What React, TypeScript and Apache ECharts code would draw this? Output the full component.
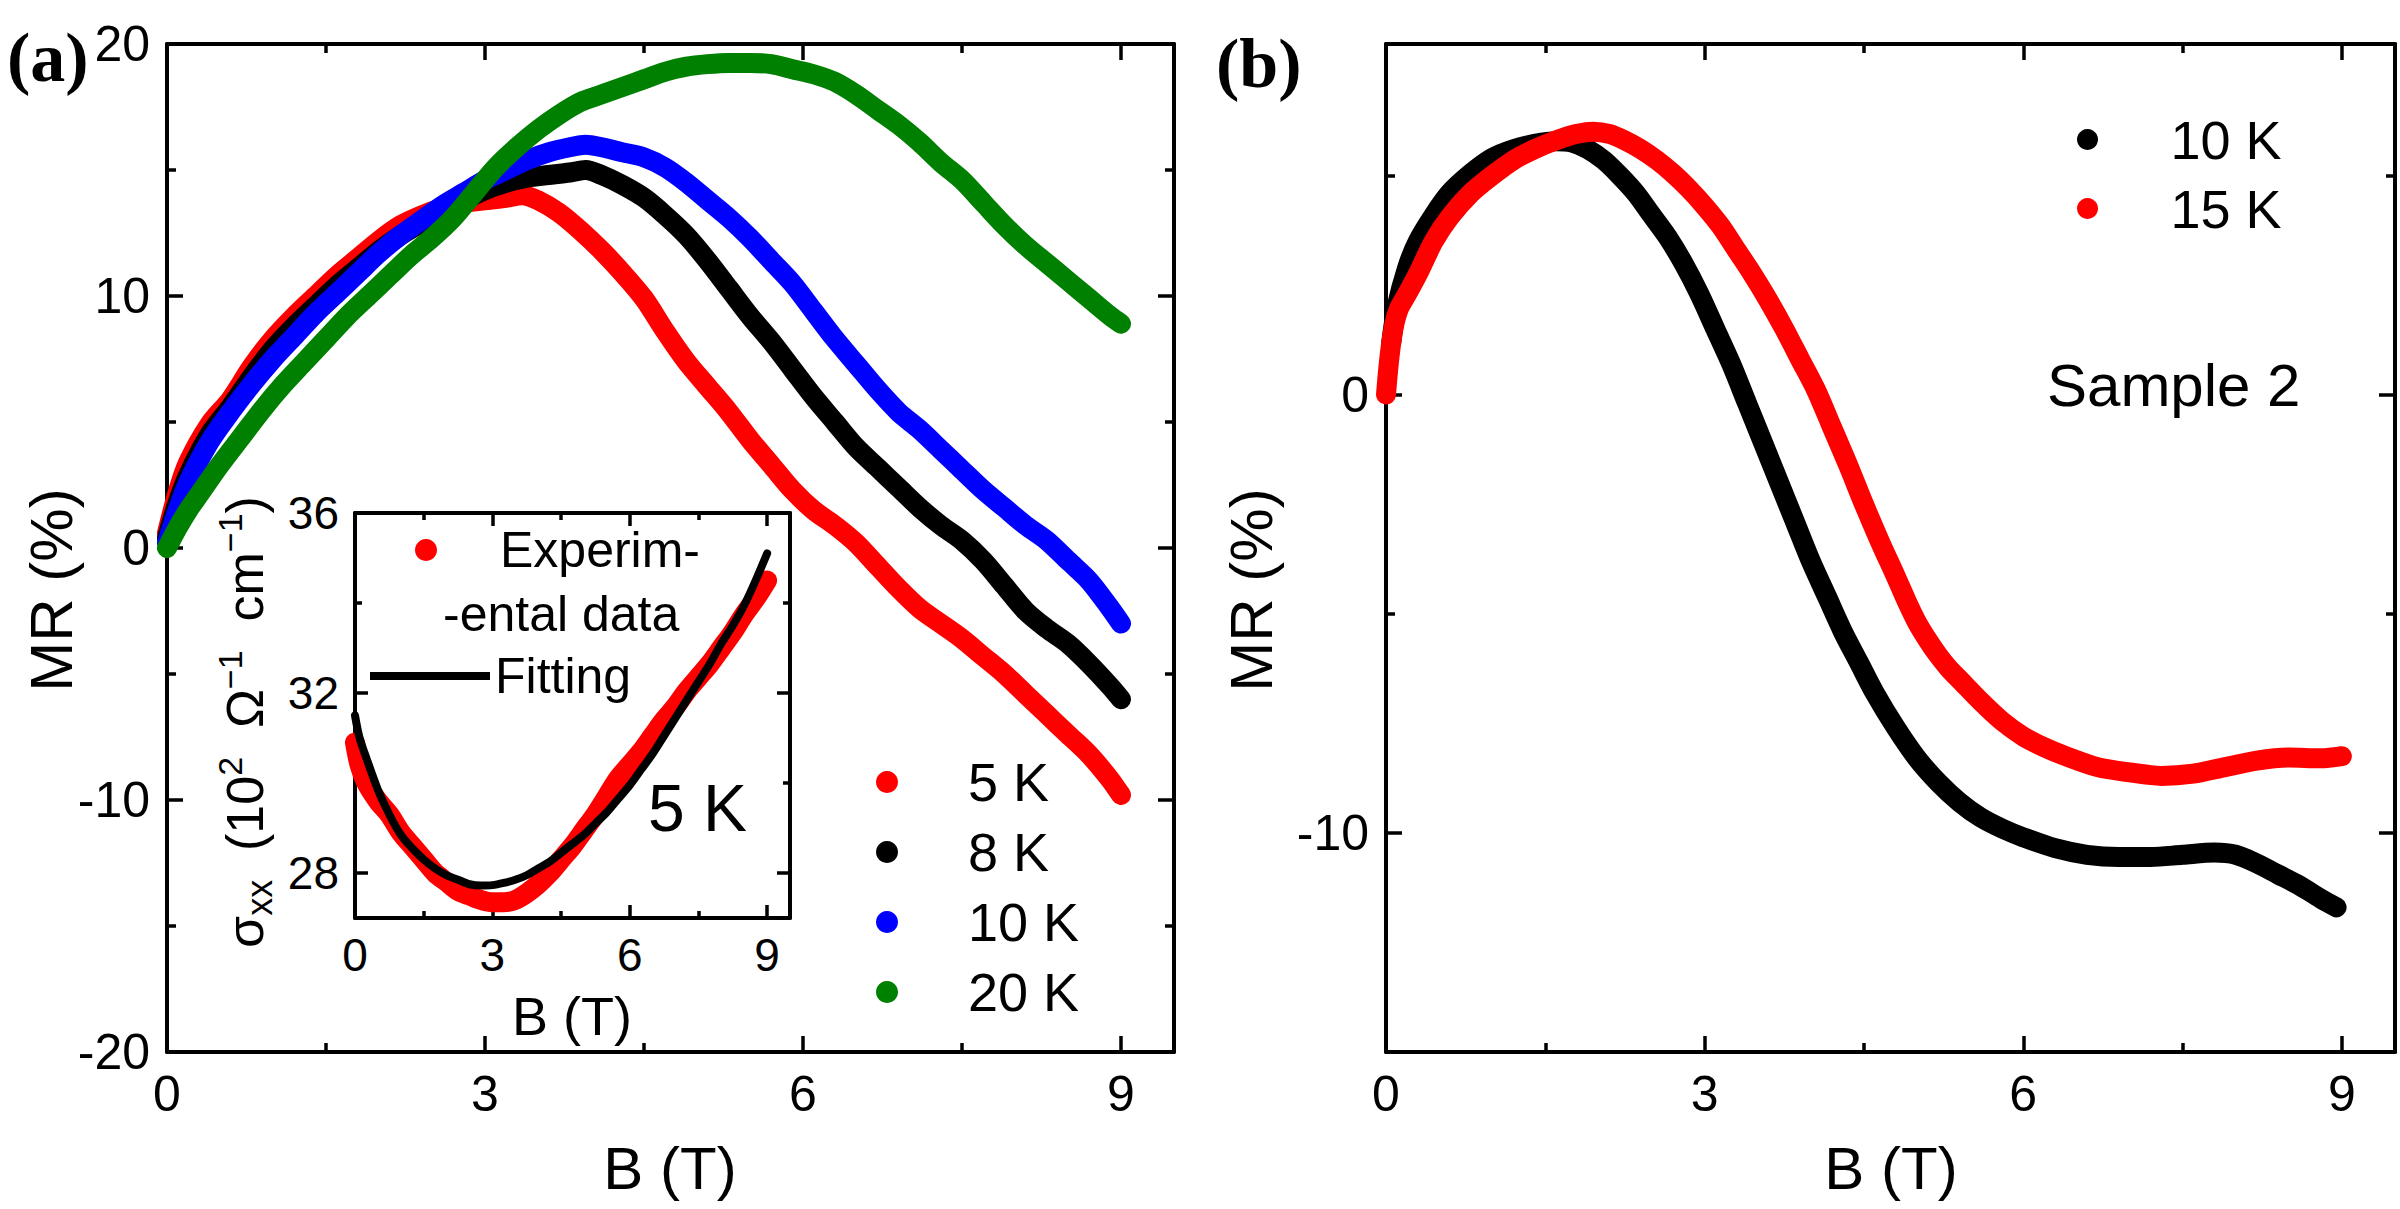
import React, { useEffect, useRef } from 'react';
import * as echarts from 'echarts';

const FONT = "'Liberation Sans', Arial, Helvetica, sans-serif";
const SERIF = "'Liberation Serif', 'Times New Roman', serif";

// Panel (a): magnetoresistance of sample 1, [B (T), MR (%)]
const mr5K: [number, number][] = [
  [0, 0.6], [0.1, 2.2], [0.2, 3.4], [0.4, 4.9], [0.6, 5.9], [0.8, 7.2], [1.0, 8.3], [1.2, 9.2],
  [1.4, 10.0], [1.6, 10.8], [1.8, 11.5], [2.0, 12.2], [2.2, 12.8], [2.4, 13.2], [2.6, 13.5],
  [2.8, 13.7], [3.0, 13.8], [3.2, 13.9], [3.35, 14.0], [3.5, 13.8], [3.7, 13.3], [3.9, 12.6],
  [4.1, 11.8], [4.3, 10.9], [4.5, 9.9], [4.7, 8.6], [4.9, 7.4], [5.1, 6.4], [5.3, 5.4],
  [5.5, 4.3], [5.7, 3.3], [5.9, 2.3], [6.1, 1.5], [6.3, 0.9], [6.5, 0.2], [6.7, -0.7],
  [6.9, -1.6], [7.1, -2.4], [7.3, -3.0], [7.5, -3.6], [7.7, -4.3], [7.9, -5.0], [8.1, -5.8],
  [8.3, -6.6], [8.5, -7.4], [8.7, -8.2], [8.9, -9.2], [9.0, -9.8],
];
const mr8K: [number, number][] = [
  [0, 0.4], [0.1, 1.8], [0.2, 2.9], [0.4, 4.5], [0.6, 5.6], [0.8, 6.8], [1.0, 7.9], [1.2, 8.8],
  [1.4, 9.6], [1.6, 10.4], [1.8, 11.1], [2.0, 11.8], [2.2, 12.4], [2.4, 12.9], [2.6, 13.4],
  [2.8, 13.8], [3.0, 14.2], [3.2, 14.5], [3.4, 14.7], [3.6, 14.8], [3.8, 14.9], [3.95, 15.0],
  [4.1, 14.8], [4.3, 14.4], [4.5, 13.9], [4.7, 13.2], [4.9, 12.4], [5.1, 11.4], [5.3, 10.3],
  [5.5, 9.2], [5.7, 8.2], [5.9, 7.1], [6.1, 6.0], [6.3, 5.0], [6.5, 4.0], [6.7, 3.2],
  [6.9, 2.4], [7.1, 1.6], [7.3, 0.9], [7.5, 0.3], [7.7, -0.5], [7.9, -1.5], [8.1, -2.5],
  [8.3, -3.2], [8.5, -3.8], [8.7, -4.6], [8.9, -5.5], [9.0, -6.0],
];
const mr10K: [number, number][] = [
  [0, 0.2], [0.1, 1.5], [0.2, 2.6], [0.4, 4.2], [0.6, 5.4], [0.8, 6.5], [1.0, 7.5], [1.2, 8.4],
  [1.4, 9.3], [1.6, 10.1], [1.8, 10.9], [2.0, 11.7], [2.2, 12.4], [2.4, 13.0], [2.6, 13.6],
  [2.8, 14.1], [3.0, 14.6], [3.2, 15.0], [3.4, 15.4], [3.6, 15.7], [3.8, 15.9], [3.95, 16.0],
  [4.1, 15.9], [4.3, 15.7], [4.5, 15.5], [4.7, 15.1], [4.9, 14.5], [5.1, 13.8], [5.3, 13.1],
  [5.5, 12.3], [5.7, 11.4], [5.9, 10.5], [6.1, 9.4], [6.3, 8.3], [6.5, 7.3], [6.7, 6.3],
  [6.9, 5.4], [7.1, 4.7], [7.3, 3.9], [7.5, 3.1], [7.7, 2.3], [7.9, 1.6], [8.1, 0.9],
  [8.3, 0.3], [8.5, -0.5], [8.7, -1.3], [8.9, -2.4], [9.0, -3.0],
];
const mr20K: [number, number][] = [
  [0, 0], [0.1, 0.8], [0.2, 1.5], [0.3, 2.1], [0.5, 3.3], [0.7, 4.4], [0.9, 5.5], [1.1, 6.5],
  [1.3, 7.4], [1.5, 8.3], [1.7, 9.2], [1.9, 10.0], [2.1, 10.8], [2.3, 11.6], [2.5, 12.3],
  [2.7, 13.1], [2.9, 14.1], [3.1, 15.1], [3.3, 15.9], [3.5, 16.6], [3.7, 17.2], [3.9, 17.7],
  [4.1, 18.0], [4.3, 18.3], [4.5, 18.6], [4.7, 18.9], [4.9, 19.1], [5.1, 19.2], [5.3, 19.25],
  [5.5, 19.25], [5.7, 19.2], [5.9, 19.0], [6.1, 18.8], [6.3, 18.5], [6.5, 18.0], [6.7, 17.4],
  [6.9, 16.8], [7.1, 16.1], [7.3, 15.3], [7.5, 14.6], [7.7, 13.7], [7.9, 12.8], [8.1, 12.0],
  [8.3, 11.3], [8.5, 10.6], [8.7, 9.9], [8.9, 9.2], [9.0, 8.9],
];

// Inset: conductivity at 5 K, [B (T), sigma_xx (10^2 Ohm^-1 cm^-1)]
const sigma5K: [number, number][] = [
  [0, 30.9], [0.1, 30.4], [0.25, 30.0], [0.5, 29.6], [0.75, 29.3], [1.0, 28.9], [1.25, 28.6],
  [1.5, 28.3], [1.75, 28.0], [2.0, 27.8], [2.25, 27.6], [2.5, 27.5], [2.75, 27.4], [3.0, 27.35],
  [3.25, 27.35], [3.5, 27.4], [3.75, 27.55], [4.0, 27.75], [4.25, 28.0], [4.5, 28.3],
  [4.75, 28.6], [5.0, 28.95], [5.25, 29.3], [5.5, 29.7], [5.75, 30.1], [6.0, 30.4],
  [6.25, 30.7], [6.5, 31.05], [6.75, 31.4], [7.0, 31.7], [7.25, 32.05], [7.5, 32.35],
  [7.75, 32.65], [8.0, 33.0], [8.25, 33.35], [8.5, 33.75], [8.75, 34.1], [9.0, 34.5],
];
const sigmaFit5K: [number, number][] = [
  [0, 31.5], [0.1, 31.0], [0.25, 30.55], [0.5, 29.85], [0.75, 29.3], [1.0, 28.85], [1.25, 28.55],
  [1.5, 28.3], [1.75, 28.1], [2.0, 27.95], [2.25, 27.85], [2.5, 27.75], [2.75, 27.72],
  [3.0, 27.73], [3.25, 27.78], [3.5, 27.85], [3.75, 27.95], [4.0, 28.1], [4.25, 28.25],
  [4.5, 28.45], [4.75, 28.65], [5.0, 28.85], [5.25, 29.1], [5.5, 29.35], [5.75, 29.65],
  [6.0, 29.95], [6.25, 30.3], [6.5, 30.65], [6.75, 31.05], [7.0, 31.45], [7.25, 31.85],
  [7.5, 32.25], [7.75, 32.65], [8.0, 33.1], [8.25, 33.5], [8.5, 33.95], [8.75, 34.5], [9.0, 35.1],
];

// Panel (b): magnetoresistance of sample 2, [B (T), MR (%)]
const mrS2_10K: [number, number][] = [
  [0.05, 1.2], [0.1, 2.0], [0.2, 2.9], [0.3, 3.5], [0.45, 4.1], [0.6, 4.6], [0.8, 5.05],
  [1.0, 5.4], [1.2, 5.6], [1.4, 5.72], [1.6, 5.78], [1.75, 5.75], [1.9, 5.6], [2.05, 5.35],
  [2.2, 5.0], [2.35, 4.6], [2.5, 4.1], [2.65, 3.6], [2.8, 3.0], [2.95, 2.3], [3.1, 1.5],
  [3.25, 0.7], [3.4, -0.2], [3.55, -1.1], [3.7, -2.0], [3.85, -2.9], [4.0, -3.8], [4.15, -4.6],
  [4.3, -5.4], [4.45, -6.1], [4.6, -6.8], [4.8, -7.6], [5.0, -8.3], [5.2, -8.85], [5.4, -9.3],
  [5.6, -9.65], [5.8, -9.9], [6.0, -10.1], [6.3, -10.35], [6.6, -10.5], [6.9, -10.55],
  [7.2, -10.55], [7.5, -10.5], [7.8, -10.45], [8.0, -10.5], [8.2, -10.7], [8.4, -10.95],
  [8.6, -11.2], [8.8, -11.5], [8.95, -11.7],
];
const mrS2_15K: [number, number][] = [
  [0, 0], [0.03, 0.8], [0.07, 1.5], [0.12, 1.95], [0.2, 2.3], [0.3, 2.75], [0.45, 3.5],
  [0.6, 4.05], [0.8, 4.6], [1.0, 5.0], [1.2, 5.35], [1.4, 5.6], [1.6, 5.8], [1.8, 5.95],
  [1.95, 6.0], [2.1, 5.95], [2.25, 5.8], [2.4, 5.6], [2.55, 5.35], [2.7, 5.05], [2.85, 4.7],
  [3.0, 4.3], [3.15, 3.85], [3.3, 3.3], [3.45, 2.75], [3.6, 2.15], [3.75, 1.5], [3.9, 0.8],
  [4.05, 0.1], [4.2, -0.75], [4.35, -1.6], [4.5, -2.5], [4.65, -3.35], [4.8, -4.15],
  [4.9, -4.7], [5.0, -5.2], [5.1, -5.6], [5.2, -5.95], [5.3, -6.25], [5.4, -6.5], [5.6, -7.0],
  [5.8, -7.45], [6.0, -7.8], [6.2, -8.05], [6.4, -8.25], [6.7, -8.5], [7.0, -8.62],
  [7.3, -8.7], [7.6, -8.65], [7.9, -8.5], [8.2, -8.35], [8.5, -8.28], [8.8, -8.3], [9.0, -8.25],
];

// Tick positions
const bMajor = [0, 3, 6, 9];
const bMinor = [1.5, 4.5, 7.5];
const mrAMajor = [-20, -10, 0, 10, 20];
const mrAMinor = [-15, -5, 5, 15];
const mrBMajor = [-10, 0];
const mrBMinor = [-5, 5];
const sigmaMajor = [28, 32, 36];
const sigmaMinor = [30, 34];

type AxisSpec = {
  dim: 'x' | 'y';
  grid: number;
  min: number;
  max: number;
  majors: number[];
  minors: number[];
  tickLen: [number, number];
  fontSize: number;
  margin: number;
};

// Four overlapping axes per dimension: labelled major + minor on the primary side,
// unlabelled major + minor on the mirrored side, all with inward ticks.
function frameAxes(s: AxisSpec) {
  const sides = s.dim === 'x' ? ['bottom', 'top'] : ['left', 'right'];
  const out: any[] = [];
  sides.forEach((position, si) => {
    [true, false].forEach((isMajor) => {
      out.push({
        type: 'value',
        gridIndex: s.grid,
        position,
        min: s.min,
        max: s.max,
        splitLine: { show: false },
        axisPointer: { show: false },
        axisLine: { show: isMajor, onZero: false, lineStyle: { color: '#000', width: 4 } },
        axisTick: {
          show: true,
          inside: true,
          customValues: isMajor ? s.majors : s.minors,
          length: isMajor ? s.tickLen[0] : s.tickLen[1],
          lineStyle: { color: '#000', width: 3.5 },
        },
        axisLabel:
          si === 0 && isMajor
            ? {
                show: true,
                customValues: s.majors,
                fontSize: s.fontSize,
                fontFamily: FONT,
                color: '#000',
                margin: s.margin,
                showMinLabel: true,
                showMaxLabel: true,
              }
            : { show: false },
      });
    });
  });
  return out;
}

function curve(name: string, data: [number, number][], color: string, width: number, grid: number) {
  return {
    type: 'line',
    name,
    data,
    xAxisIndex: grid * 4,
    yAxisIndex: grid * 4,
    color,
    symbol: 'none',
    showSymbol: false,
    smooth: 0.3,
    silent: true,
    lineStyle: { color, width, cap: 'round', join: 'round' },
    itemStyle: { color },
  };
}

function buildOption() {
  const xAxes = [
    ...frameAxes({ dim: 'x', grid: 0, min: 0, max: 9.5, majors: bMajor, minors: bMinor, tickLen: [16, 9], fontSize: 50, margin: 17 }),
    ...frameAxes({ dim: 'x', grid: 1, min: 0, max: 9.5, majors: bMajor, minors: bMinor, tickLen: [16, 9], fontSize: 50, margin: 17 }),
    ...frameAxes({ dim: 'x', grid: 2, min: 0, max: 9.5, majors: bMajor, minors: bMinor, tickLen: [13, 7], fontSize: 46, margin: 14 }),
  ];
  const yAxes = [
    ...frameAxes({ dim: 'y', grid: 0, min: -20, max: 20, majors: mrAMajor, minors: mrAMinor, tickLen: [16, 9], fontSize: 50, margin: 17 }),
    ...frameAxes({ dim: 'y', grid: 1, min: -15, max: 8, majors: mrBMajor, minors: mrBMinor, tickLen: [16, 9], fontSize: 50, margin: 17 }),
    ...frameAxes({ dim: 'y', grid: 2, min: 27, max: 36, majors: sigmaMajor, minors: sigmaMinor, tickLen: [13, 7], fontSize: 46, margin: 16 }),
  ];

  const legendText = { fontFamily: FONT, color: '#000' };

  return {
    animation: false,
    backgroundColor: '#fff',
    grid: [
      { left: 167, top: 44, width: 1007, height: 1008 },
      { left: 1386, top: 44, width: 1009, height: 1008 },
      { left: 355, top: 513, width: 435, height: 405 },
    ],
    xAxis: xAxes,
    yAxis: yAxes,
    legend: [
      {
        orient: 'vertical',
        left: 876,
        top: 747,
        padding: 0,
        itemGap: 0,
        itemWidth: 152,
        itemHeight: 22,
        icon: 'circle',
        selectedMode: false,
        data: ['5 K', '8 K', '10 K', '20 K'],
        textStyle: { ...legendText, fontSize: 54, lineHeight: 70 },
      },
      {
        orient: 'vertical',
        left: 2077,
        top: 105,
        padding: 0,
        itemGap: 0,
        itemWidth: 156,
        itemHeight: 21,
        icon: 'circle',
        selectedMode: false,
        data: ['Sample 2, 10 K', 'Sample 2, 15 K'],
        formatter: (n: string) => n.replace('Sample 2, ', ''),
        textStyle: { ...legendText, fontSize: 54, lineHeight: 69 },
      },
      {
        left: 415,
        top: 520,
        padding: 0,
        itemWidth: 138,
        itemHeight: 22,
        icon: 'circle',
        selectedMode: false,
        data: ['Experimental data'],
        formatter: () => 'Experim-',
        textStyle: { ...legendText, fontSize: 50, lineHeight: 60 },
      },
      {
        left: 370,
        top: 646,
        padding: 0,
        itemWidth: 120,
        itemHeight: 8,
        icon: 'rect',
        selectedMode: false,
        data: ['Fitting'],
        textStyle: { ...legendText, fontSize: 50, lineHeight: 60 },
      },
    ],
    graphic: [
      { type: 'text', left: 7, top: 22, style: { text: '(a)', font: `bold 70px ${SERIF}`, fill: '#000' } },
      { type: 'text', left: 1216, top: 28, style: { text: '(b)', font: `bold 70px ${SERIF}`, fill: '#000' } },
      {
        type: 'text', x: 51, y: 590, rotation: Math.PI / 2,
        style: { text: 'MR (%)', font: `60px ${FONT}`, fill: '#000', align: 'center', verticalAlign: 'middle' },
      },
      {
        type: 'text', x: 1251, y: 590, rotation: Math.PI / 2,
        style: { text: 'MR (%)', font: `60px ${FONT}`, fill: '#000', align: 'center', verticalAlign: 'middle' },
      },
      {
        type: 'text', x: 670, y: 1168,
        style: { text: 'B (T)', font: `60px ${FONT}`, fill: '#000', align: 'center', verticalAlign: 'middle' },
      },
      {
        type: 'text', x: 1891, y: 1168,
        style: { text: 'B (T)', font: `60px ${FONT}`, fill: '#000', align: 'center', verticalAlign: 'middle' },
      },
      {
        type: 'text', x: 572, y: 1016,
        style: { text: 'B (T)', font: `54px ${FONT}`, fill: '#000', align: 'center', verticalAlign: 'middle' },
      },
      {
        type: 'text', x: 245, y: 722, rotation: Math.PI / 2,
        style: {
          text: '{m|σ}{sub|xx}{m|  (10}{sup|2}{m|  Ω}{sup|−1}{m|  cm}{sup|−1}{m|)}',
          align: 'center',
          verticalAlign: 'middle',
          fill: '#000',
          rich: {
            m: { fontFamily: FONT, fontSize: 52, lineHeight: 64, verticalAlign: 'middle', fill: '#000' },
            sup: { fontFamily: FONT, fontSize: 34, lineHeight: 34, verticalAlign: 'top', fill: '#000' },
            sub: { fontFamily: FONT, fontSize: 36, lineHeight: 36, verticalAlign: 'bottom', fill: '#000' },
          },
        },
      },
      {
        type: 'text', x: 443, y: 614,
        style: { text: '-ental data', font: `50px ${FONT}`, fill: '#000', align: 'left', verticalAlign: 'middle' },
      },
      {
        type: 'text', x: 648, y: 808,
        style: { text: '5 K', font: `66px ${FONT}`, fill: '#000', align: 'left', verticalAlign: 'middle' },
      },
      {
        type: 'text', x: 2047, y: 385,
        style: { text: 'Sample 2', font: `60px ${FONT}`, fill: '#000', align: 'left', verticalAlign: 'middle' },
      },
    ],
    series: [
      curve('5 K', mr5K, '#ff0000', 20, 0),
      curve('8 K', mr8K, '#000000', 20, 0),
      curve('10 K', mr10K, '#0000ff', 20, 0),
      curve('20 K', mr20K, '#008000', 20, 0),
      curve('Sample 2, 10 K', mrS2_10K, '#000000', 20, 1),
      curve('Sample 2, 15 K', mrS2_15K, '#ff0000', 20, 1),
      curve('Experimental data', sigma5K, '#ff0000', 20, 2),
      curve('Fitting', sigmaFit5K, '#000000', 8, 2),
    ],
  };
}

export default function App() {
  const ref = useRef<HTMLDivElement>(null);
  useEffect(() => {
    if (!ref.current) return;
    const chart = echarts.init(ref.current, undefined, { renderer: 'svg' });
    chart.setOption(buildOption() as any);
    return () => chart.dispose();
  }, []);
  return (
    <div
      ref={ref}
      style={{ position: 'absolute', left: 0, top: 0, width: 2400, height: 1209, background: '#fff' }}
    />
  );
}
